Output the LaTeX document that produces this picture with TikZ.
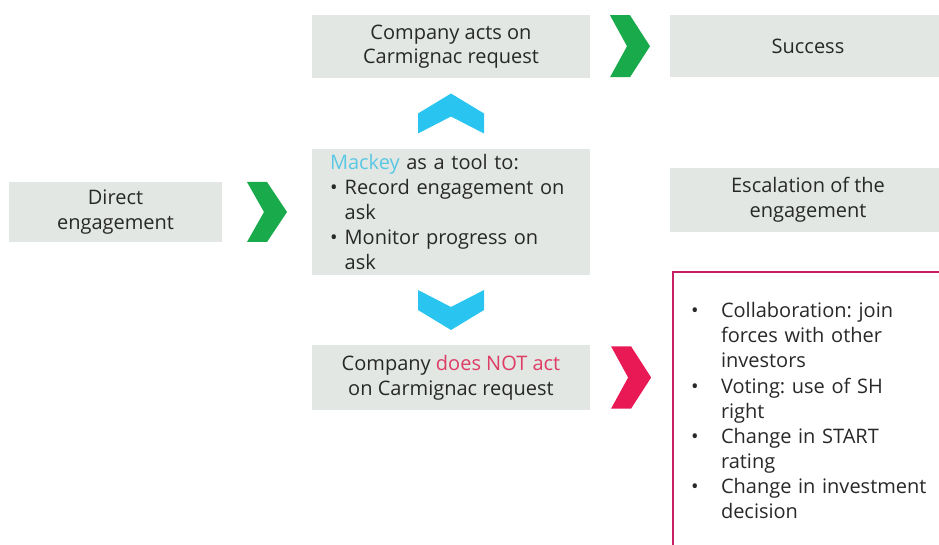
\documentclass[tikz,border=0pt]{standalone}
\usepackage{fontspec}
\setmainfont{Open Sans}
\usetikzlibrary{calc}
\frenchspacing
\definecolor{boxgrey}{RGB}{226,231,227}
\definecolor{chevgreen}{RGB}{24,170,75}
\definecolor{chevblue}{RGB}{41,197,240}
\definecolor{chevred}{RGB}{232,25,85}
\definecolor{framered}{RGB}{200,30,100}
\definecolor{mackeyblue}{RGB}{90,200,228}
\definecolor{notred}{RGB}{222,60,100}
\definecolor{txt}{RGB}{40,40,40}

\begin{document}
\begin{tikzpicture}[x=0.75pt,y=-0.75pt,
    every node/.style={font=\fontsize{15}{18.5}\selectfont,text=txt},
    box/.style={fill=boxgrey,draw=none,align=center,inner sep=0pt,
                minimum width=208.5pt,minimum height=47.25pt},
    listbox/.style={align=left,font=\fontsize{15}{18.8}\selectfont},
    pics/chev/.style={code={\fill (-20,-#1) -- (0,-#1) -- (20,0) -- (0,#1) -- (-20,#1) -- (-3,0) -- cycle;}}]
  \useasboundingbox (0,0) rectangle (939,545);
  \node[box,minimum width=159.75pt,minimum height=45pt] (direct) at (115.5,212) {Direct\\engagement};
  \node[box] (acts) at (451,46.5) {Company acts on\\Carmignac request};
  \node[box,minimum width=207pt,minimum height=46.5pt] (success) at (808,46) {Success};
  \node[box,listbox,minimum height=94.5pt,text width=181.5pt,inner xsep=13.5pt] (mackey) at (451,212)
    {{\color{mackeyblue}Mackey} as a tool to:\\
     \makebox[11pt][l]{•}Record engagement on\\
     \hspace*{11pt}ask\\
     \makebox[11pt][l]{•}Monitor progress on\\
     \hspace*{11pt}ask};
  \node[box,minimum width=207pt,minimum height=48pt] (escal) at (808,200) {Escalation of the\\engagement};
  \node[box,minimum height=48.75pt] (doesnot) at (451,377.5) {Company {\color{notred}does NOT act}\\on Carmignac request};
  \node[listbox,anchor=north west,draw=framered,line width=1.5pt,text width=181.5pt,
        inner xsep=13.5pt,inner ysep=23pt] (redbox) at (672,271)
    {\makebox[22.5pt][l]{•}Collaboration: join\\
     \hspace*{22.5pt}forces with other\\
     \hspace*{22.5pt}investors\\
     \makebox[22.5pt][l]{•}Voting: use of SH\\
     \hspace*{22.5pt}right\\
     \makebox[22.5pt][l]{•}Change in START\\
     \hspace*{22.5pt}rating\\
     \makebox[22.5pt][l]{•}Change in investment\\
     \hspace*{22.5pt}decision};
  \pic[chevgreen] at ($(direct.east)!0.5!(mackey.west)$) {chev=30};
  \pic[chevgreen] at ($(acts.east)!0.5!(success.west)$) {chev=31};
  \pic[chevred] at ($(doesnot.east)!0.5!(doesnot.east -| redbox.west)$) {chev=31};
  \pic[chevblue,rotate=90] at ($(acts.south)!0.5!(mackey.north)$) {chev=33};
  \pic[chevblue,rotate=-90] at ($(mackey.south)!0.5!(doesnot.north)$) {chev=33};
\end{tikzpicture}
\end{document}
